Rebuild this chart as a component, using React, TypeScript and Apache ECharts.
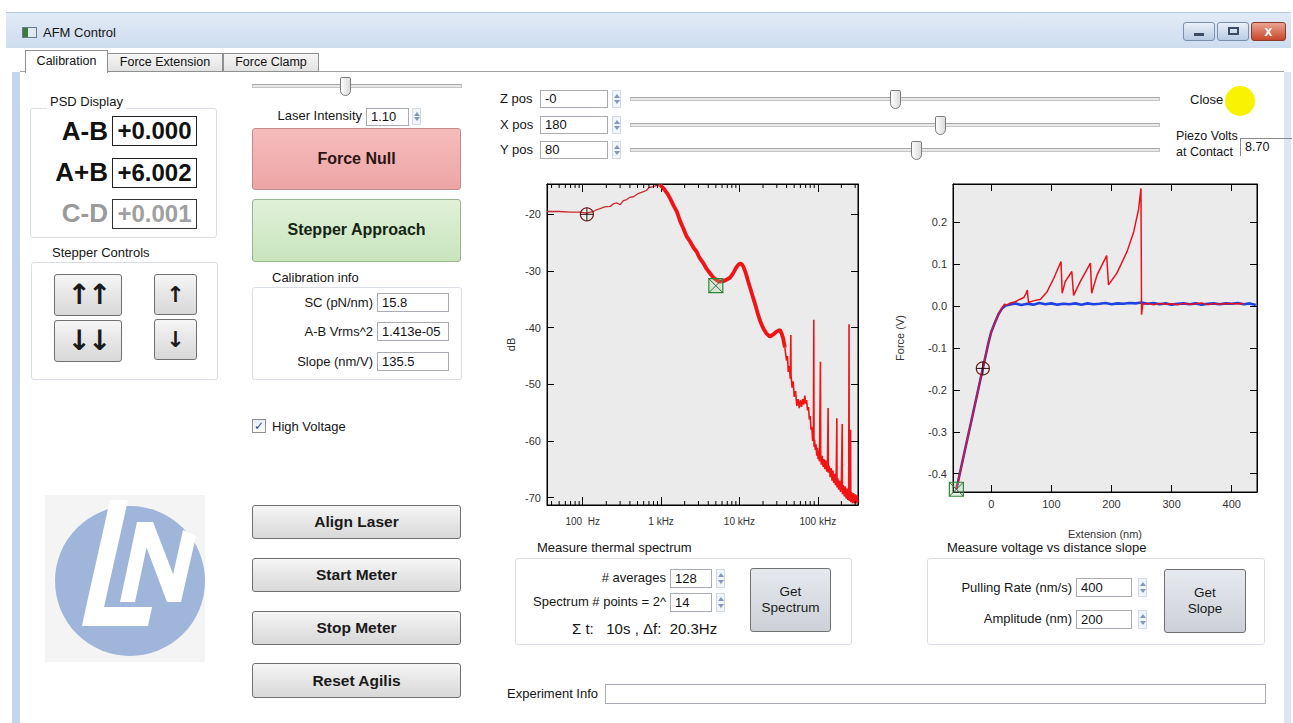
import React, { useEffect, useRef } from "react";
import * as echarts from "echarts";

// ---------------- DATA ----------------
// Thermal spectrum: [frequency (Hz), power (dB)]
const specLow = [
  [35, -19.5], [50, -19.5], [70, -19.6], [93, -19.6], [113, -19.8], [137, -19.5], [150, -19.2],
  [167, -19.0], [190, -18.7], [224, -18.6], [250, -18.1], [272, -18.0], [300, -18.3], [330, -17.6],
  [365, -17.4], [400, -17.0], [444, -16.9], [500, -16.4], [596, -16.0], [650, -15.8], [700, -15.3],
  [798, -15.1], [880, -14.9], [971, -14.8],
];
const specMid = [
  [971, -14.8], [1071, -15.4], [1200, -16.3], [1303, -17.2], [1450, -18.5], [1584, -19.5], [1750, -21.2],
  [1926, -22.5], [2100, -23.8], [2341, -24.8], [2600, -25.9], [2846, -26.6], [3100, -27.7], [3460, -28.6],
  [3800, -29.6], [4207, -30.4], [4600, -31.1], [5115, -31.6], [5600, -31.9], [6219, -31.8], [6900, -31.5],
  [7561, -31.2], [8337, -30.4], [9000, -29.5], [9664, -28.9], [10150, -28.7], [10700, -28.8], [11190, -29.2],
  [12000, -30.3], [12970, -31.9], [14000, -33.4], [15010, -34.8], [16200, -36.3], [17380, -37.8],
  [18700, -39.1], [20130, -40.1], [22000, -41.0], [24480, -41.6], [27000, -41.2], [29740, -40.7],
  [32800, -40.4], [34500, -41.0], [36160, -41.9], [38000, -43.5],
];
const specTail = [
  [38000, -43.5], [39880, -45.8], [41000, -45.0], [42000, -47.8], [43500, -46.8], [44500, -49.0],
  [45290, -41.3], [45600, -48.5], [47000, -50.6], [48500, -49.5], [50000, -52.2], [52000, -51.2],
  [54000, -53.8], [56000, -52.6], [58000, -54.2], [60000, -52.8], [62000, -54.0], [64000, -52.6],
  [66000, -53.6], [68290, -52.0], [70000, -53.4], [72000, -52.8], [74000, -54.6], [76000, -54.0],
  [78000, -56.2], [80000, -55.6], [82000, -58.0], [84000, -57.6], [86000, -60.0], [88000, -59.0],
  [88920, -38.6], [89500, -61.0], [91000, -59.8], [93000, -61.6], [95000, -60.6], [97000, -62.6],
  [99000, -61.2], [101000, -63.2], [103000, -61.8], [105000, -63.6], [108100, -46.0], [109000, -62.4],
  [111000, -64.2], [114000, -62.6], [117000, -64.6], [120000, -63.2], [123000, -65.0], [126000, -63.4],
  [130000, -65.4], [133000, -64.0], [135400, -54.2], [136500, -65.6], [140000, -64.4], [144000, -66.4],
  [148000, -64.8], [152000, -67.0], [156000, -65.2], [160000, -67.4], [164000, -65.8], [168000, -67.8],
  [172000, -66.2], [175000, -56.0], [176000, -68.2], [180000, -66.6], [185000, -68.6], [190000, -67.0],
  [195000, -69.0], [200000, -67.4], [205000, -57.0], [206000, -69.4], [212000, -67.8], [218000, -69.8],
  [224000, -68.0], [230000, -70.2], [236000, -68.4], [242000, -70.4], [248000, -68.6], [250600, -39.4],
  [252000, -70.6], [256000, -68.8], [262000, -58.0], [264000, -70.8], [270000, -69.0], [278000, -71.0],
  [286000, -69.2], [294000, -71.0], [302000, -69.4], [310000, -71.0], [318000, -69.6], [326000, -70.8],
];
const specFreqTickValues = [100, 1000, 10000, 100000];
const specFreqTickLabels = ["100  Hz", "1 kHz", "10 kHz", "100 kHz"];
const specMinorTicks = [
  40, 50, 60, 70, 80, 90, 200, 300, 400, 500, 600, 700, 800, 900,
  2000, 3000, 4000, 5000, 6000, 7000, 8000, 9000,
  20000, 30000, 40000, 50000, 60000, 70000, 80000, 90000, 200000, 300000,
];
const specRange = { fMin: 35, fMax: 326000, dbMin: -71.3, dbMax: -14.65 };
// cursors: [x, y, kind] kind 0 = circle cursor, 1 = square cursor
const specCursors = [[113, -20, 0], [5000, -32.6, 1]];

// Force vs extension: [extension (nm), force (V)]
const forceApproach = [
  [-58, -0.437], [-45, -0.352], [-30, -0.254], [-14, -0.149], [-5, -0.09], [0, -0.062], [6, -0.04],
  [12, -0.02], [18, -0.006], [24, 0.001], [30, 0.003], [40, 0.006], [50, 0.002], [60, 0.005], [70, 0.003],
  [80, 0.007], [90, 0.004], [100, 0.006], [110, 0.003], [120, 0.005], [130, 0.004], [140, 0.006],
  [150, 0.003], [160, 0.006], [170, 0.004], [180, 0.005], [190, 0.007], [200, 0.004], [210, 0.006],
  [220, 0.005], [230, 0.007], [240, 0.006], [250, 0.008], [260, 0.005], [270, 0.007], [280, 0.004],
  [290, 0.006], [300, 0.003], [310, 0.005], [320, 0.006], [330, 0.004], [340, 0.006], [350, 0.003],
  [360, 0.005], [370, 0.006], [380, 0.004], [390, 0.006], [400, 0.005], [410, 0.007], [420, 0.004],
  [430, 0.006], [440, 0.002],
];
const forceRetract = [
  [-58, -0.437], [-45, -0.352], [-30, -0.254], [-14, -0.149], [-5, -0.09], [0, -0.062], [6, -0.04],
  [12, -0.02], [18, -0.004], [22, 0.004], [26, 0.002], [32, 0.007], [40, 0.01], [48, 0.016], [54, 0.02],
  [58, 0.03], [60, 0.038], [62, 0.008], [70, 0.012], [82, 0.016], [93, 0.034], [104, 0.066], [116, 0.106],
  [118, 0.03], [123, 0.058], [134, 0.082], [137, 0.025], [148, 0.058], [165, 0.102], [167, 0.03],
  [176, 0.074], [192, 0.12], [195, 0.05], [209, 0.078], [226, 0.13], [237, 0.177], [245, 0.23],
  [249, 0.28], [250, -0.021], [252, 0.004], [260, 0.006], [270, 0.003], [280, 0.006], [290, 0.004],
  [300, 0.005], [310, 0.003], [320, 0.006], [330, 0.004], [340, 0.005], [350, 0.007], [360, 0.003],
  [370, 0.006], [380, 0.004], [390, 0.006], [400, 0.005], [410, 0.006], [420, 0.005],
];
const forceRange = { xMin: -63.6, xMax: 442, yMin: -0.4436, yMax: 0.2906 };
const forceCursors = [[-14, -0.149, 0], [-58, -0.437, 1]];

// ---------------- GUI helpers ----------------
const FONT = "'Liberation Sans', Arial, sans-serif";
const FONTW = "'Liberation Sans', Arial, sans-serif";

const Abs = ({ x, y, w, h, style, children }: any) => (
  <div style={{ position: "absolute", left: x, top: y, width: w, height: h, boxSizing: "border-box", ...style }}>{children}</div>
);

const Label = ({ x, cy, text, size = 13, align = "left", color = "#151515", bold = false, font = FONT, bg }: any) => {
  const w = 400;
  const left = align === "left" ? x : align === "right" ? x - w : x - w / 2;
  return (
    <div style={{ position: "absolute", left, top: cy - 11, width: w, height: 22, lineHeight: "22px", textAlign: align, fontSize: size, fontFamily: font, fontWeight: bold ? 700 : 400, color, whiteSpace: "pre" }}>
      <span style={{ background: bg, padding: bg ? "0 3px" : 0 }}>{text}</span>
    </div>
  );
};

const Input = ({ x, y, w, h, text, size = 13 }: any) => (
  <Abs x={x} y={y} w={w} h={h} style={{ background: "#fff", border: "1px solid #a9acb2", fontFamily: FONT, fontSize: size, lineHeight: h - 2 + "px", paddingLeft: 4, color: "#111", whiteSpace: "nowrap", overflow: "hidden" }}>{text}</Abs>
);

const Spinner = ({ x, y, h }: any) => (
  <Abs x={x} y={y} w={9} h={h} style={{ background: "#f1f4f8", border: "1px solid #d4dae2", display: "flex", flexDirection: "column", alignItems: "center", justifyContent: "space-around", padding: "2px 0" }}>
    <div style={{ width: 0, height: 0, borderLeft: "3px solid transparent", borderRight: "3px solid transparent", borderBottom: "4px solid #7f99bb" }} />
    <div style={{ width: 0, height: 0, borderLeft: "3px solid transparent", borderRight: "3px solid transparent", borderTop: "4px solid #7f99bb" }} />
  </Abs>
);

const Slider = ({ x1, x2, y, thumb }: any) => (
  <>
    <Abs x={x1} y={y - 2} w={x2 - x1} h={4} style={{ background: "#e9e9e9", border: "1px solid #c4c4c4", borderTopColor: "#a8a8a8" }} />
    <Abs x={thumb - 5} y={y - 9} w={11} h={19} style={{ background: "linear-gradient(90deg,#fdfdfd,#dcdcdc)", border: "1px solid #7b7b7b", borderRadius: "2px 2px 6px 6px" }} />
  </>
);

const Button = ({ x, y, w, h, text, size = 15.5, bold = true, bg, border = "#707070", color = "#1a1a1a", font = FONTW, ls = 0 }: any) => (
  <Abs x={x} y={y} w={w} h={h} style={{ background: bg || "linear-gradient(#f6f6f6,#e6e6e6 50%,#d8d8d8)", border: "1px solid " + border, borderRadius: 3, display: "flex", alignItems: "center", justifyContent: "center", textAlign: "center", fontFamily: font, fontSize: size, fontWeight: bold ? 700 : 400, color, lineHeight: 1.15, whiteSpace: "pre", letterSpacing: ls }}>{text}</Abs>
);

const Group = ({ x, y, w, h, title, tx, ty }: any) => (
  <>
    <Abs x={x} y={y} w={w} h={h} style={{ border: "1px solid #d9dfe4", borderRadius: 3 }} />
    <Label x={tx} cy={ty} text={title} bg="#fff" />
  </>
);

// ---------------- chart ----------------
function buildOption() {
  const black = { color: "#000", width: 1 };
  const labelStyle = { color: "#333", fontFamily: FONTW, fontSize: 11 };
  const isMult = (v: number, step: number) => Math.abs(v / step - Math.round(v / step)) < 1e-6;

  const freqLabel = (v: number) => {
    const i = specFreqTickValues.findIndex((t) => Math.abs(Math.log10(v) - Math.log10(t)) < 1e-6);
    return i >= 0 ? specFreqTickLabels[i] : "";
  };

  const minorTickItem = (params: any, api: any) => {
    const f = api.value(0);
    const top = api.coord([f, specRange.dbMax]);
    const bot = api.coord([f, specRange.dbMin]);
    return {
      type: "group",
      children: [
        { type: "line", shape: { x1: top[0], y1: top[1], x2: top[0], y2: top[1] + 4 }, style: { stroke: "#000", lineWidth: 1 } },
        { type: "line", shape: { x1: bot[0], y1: bot[1], x2: bot[0], y2: bot[1] - 4 }, style: { stroke: "#000", lineWidth: 1 } },
      ],
    };
  };

  const cursorItem = (params: any, api: any) => {
    const p = api.coord([api.value(0), api.value(1)]);
    const kind = api.value(2);
    if (kind === 0) {
      const r = 6.5;
      return {
        type: "group",
        children: [
          { type: "circle", shape: { cx: p[0], cy: p[1], r }, style: { fill: "none", stroke: "#6e1818", lineWidth: 1.2 } },
          { type: "line", shape: { x1: p[0] - r, y1: p[1], x2: p[0] + r, y2: p[1] }, style: { stroke: "#2a1010", lineWidth: 1 } },
          { type: "line", shape: { x1: p[0], y1: p[1] - r, x2: p[0], y2: p[1] + r }, style: { stroke: "#2a1010", lineWidth: 1 } },
        ],
      };
    }
    const s = 7;
    return {
      type: "group",
      children: [
        { type: "rect", shape: { x: p[0] - s, y: p[1] - s, width: 2 * s, height: 2 * s }, style: { fill: "rgba(150,210,150,0.25)", stroke: "#2f8a35", lineWidth: 1.2 } },
        { type: "line", shape: { x1: p[0] - s, y1: p[1] - s, x2: p[0] + s, y2: p[1] + s }, style: { stroke: "#3d6b3d", lineWidth: 1 } },
        { type: "line", shape: { x1: p[0] + s, y1: p[1] - s, x2: p[0] - s, y2: p[1] + s }, style: { stroke: "#3d6b3d", lineWidth: 1 } },
      ],
    };
  };

  const logX = (position: string, showLabel: boolean) => ({
    type: "log", logBase: 10, gridIndex: 0, position, min: specRange.fMin, max: specRange.fMax,
    axisLine: { show: true, onZero: false, lineStyle: black },
    axisTick: { show: true, inside: true, length: 8, lineStyle: black },
    axisLabel: { show: showLabel, formatter: freqLabel, margin: 11, ...labelStyle, fontSize: 10, showMinLabel: false, showMaxLabel: false },
    splitLine: { show: false },
  });
  const dbY = (position: string, showLabel: boolean) => ({
    type: "value", gridIndex: 0, position, min: specRange.dbMin, max: specRange.dbMax, splitNumber: 6,
    axisLine: { show: true, onZero: false, lineStyle: black },
    axisTick: { show: true, inside: true, length: 7, lineStyle: black },
    axisLabel: { show: showLabel, formatter: (v: number) => (isMult(v, 10) ? String(Math.round(v)) : ""), margin: 6, ...labelStyle },
    splitLine: { show: false },
    name: showLabel ? "dB" : "", nameLocation: "middle", nameGap: 31, nameTextStyle: { color: "#333", fontFamily: FONTW, fontSize: 11 },
  });
  const extX = (position: string, showLabel: boolean) => ({
    type: "value", gridIndex: 1, position, min: forceRange.xMin, max: forceRange.xMax, splitNumber: 5,
    axisLine: { show: true, onZero: false, lineStyle: black },
    axisTick: { show: true, inside: true, length: 7, lineStyle: black },
    axisLabel: { show: showLabel, formatter: (v: number) => (isMult(v, 100) ? String(Math.round(v)) : ""), margin: 6, ...labelStyle },
    splitLine: { show: false },
    name: showLabel ? "Extension (nm)" : "", nameLocation: "middle", nameGap: 36, nameTextStyle: { color: "#333", fontFamily: FONTW, fontSize: 11 },
  });
  const fY = (position: string, showLabel: boolean) => ({
    type: "value", gridIndex: 1, position, min: forceRange.yMin, max: forceRange.yMax, splitNumber: 7,
    axisLine: { show: true, onZero: false, lineStyle: black },
    axisTick: { show: true, inside: true, length: 7, lineStyle: black },
    axisLabel: { show: showLabel, formatter: (v: number) => (isMult(v, 0.1) ? (Math.round(v * 10) / 10).toFixed(1) : ""), margin: 6, ...labelStyle },
    splitLine: { show: false },
    name: showLabel ? "Force (V)" : "", nameLocation: "middle", nameGap: 48, nameTextStyle: { color: "#333", fontFamily: FONTW, fontSize: 11 },
  });

  return {
    animation: false,
    backgroundColor: "transparent",
    grid: [
      { left: 57, top: 14, width: 311, height: 321, show: true, backgroundColor: "#ebebeb", borderColor: "#000", borderWidth: 1 },
      { left: 463, top: 14, width: 304, height: 308, show: true, backgroundColor: "#ebebeb", borderColor: "#000", borderWidth: 1 },
    ],
    xAxis: [logX("bottom", true), logX("top", false), extX("bottom", true), extX("top", false)],
    yAxis: [dbY("left", true), dbY("right", false), fY("left", true), fY("right", false)],
    series: [
      { type: "line", xAxisIndex: 0, yAxisIndex: 0, data: specLow, showSymbol: false, lineStyle: { color: "#c92a30", width: 1.3 }, z: 3 },
      { type: "line", xAxisIndex: 0, yAxisIndex: 0, data: specMid, showSymbol: false, lineStyle: { color: "#f01414", width: 3.8 }, z: 3 },
      { type: "line", xAxisIndex: 0, yAxisIndex: 0, data: specTail, showSymbol: false, lineStyle: { color: "#f01414", width: 1.6 }, z: 3 },
      { type: "custom", xAxisIndex: 0, yAxisIndex: 0, data: specMinorTicks.map((f) => [f, specRange.dbMax]), renderItem: minorTickItem, clip: false, silent: true, z: 4 },
      { type: "custom", xAxisIndex: 0, yAxisIndex: 0, data: specCursors, renderItem: cursorItem, clip: false, silent: true, z: 6 },
      { type: "line", xAxisIndex: 2, yAxisIndex: 2, data: forceApproach, showSymbol: false, lineStyle: { color: "#2042e0", width: 2.6 }, z: 3 },
      { type: "line", xAxisIndex: 2, yAxisIndex: 2, data: forceRetract, showSymbol: false, lineStyle: { color: "#e8121e", width: 1.5 }, z: 4 },
      { type: "custom", xAxisIndex: 2, yAxisIndex: 2, data: forceCursors, renderItem: cursorItem, clip: false, silent: true, z: 6 },
    ],
  };
}

function Charts() {
  const ref = useRef<HTMLDivElement>(null);
  useEffect(() => {
    if (!ref.current) return;
    const chart = echarts.init(ref.current, null, { renderer: "svg" });
    chart.setOption(buildOption() as any);
    return () => chart.dispose();
  }, []);
  return <div ref={ref} style={{ position: "absolute", left: 490, top: 170, width: 795, height: 380 }} />;
}

function Logo() {
  return (
    <svg style={{ position: "absolute", left: 40, top: 490 }} width={170} height={175} viewBox="0 0 170 175">
      <rect x={5} y={5} width={160} height={167} fill="#f4f4f4" />
      <circle cx={90} cy={91} r={75} fill="#9fb5da" />
      <polygon points="70,10 88,10 64,117 46,117" fill="#fff" />
      <polygon points="46,117 112,117 108,136 42,136" fill="#fff" />
      <polygon points="80,112 95,112 112,32 97,32" fill="#fff" />
      <polygon points="97,32 113,32 140,102 127,112" fill="#fff" />
      <polygon points="127,112 141,112 156,46 143,40" fill="#fff" />
    </svg>
  );
}

export default function App() {
  return (
    <div style={{ position: "fixed", left: 0, top: 0, width: 1293, height: 723, background: "#fff", overflow: "hidden", fontFamily: FONT }}>
      {/* window title bar */}
      <Abs x={6} y={12} w={1285} h={36} style={{ background: "linear-gradient(#e2ebf6,#cddcef)", borderTop: "1px solid #b7c8de" }} />
      <Abs x={22} y={27} w={15} h={11} style={{ background: "linear-gradient(90deg,#3c7a3c 40%,#dfe8f0 40%)", border: "1px solid #6a7b8c" }} />
      <Label x={43} cy={33} text="AFM Control" size={13} font={FONTW} />
      <Abs x={1183} y={22} w={32} h={19} style={{ background: "linear-gradient(#e9f0f8,#b9cbe2)", border: "1px solid #7890ad", borderRadius: 3 }}>
        <div style={{ position: "absolute", left: 10, top: 10, width: 10, height: 3, background: "#3c4c64" }} />
      </Abs>
      <Abs x={1217} y={22} w={32} h={19} style={{ background: "linear-gradient(#e9f0f8,#b9cbe2)", border: "1px solid #7890ad", borderRadius: 3 }}>
        <div style={{ position: "absolute", left: 10, top: 4, width: 11, height: 8, border: "2px solid #3c4c64", boxSizing: "border-box" }} />
      </Abs>
      <Abs x={1251} y={22} w={35} h={19} style={{ background: "linear-gradient(#eba38f,#c8462a)", border: "1px solid #8a3a2a", borderRadius: 3, color: "#fff", fontFamily: FONTW, fontWeight: 700, fontSize: 14, textAlign: "center", lineHeight: "17px" }}>x</Abs>
      {/* window side borders */}
      <Abs x={12} y={72} w={8} h={651} style={{ background: "#c3d6ee" }} />
      <Abs x={1284} y={72} w={7} h={651} style={{ background: "#dbe6f3" }} />
      {/* tabs */}
      <Abs x={20} y={71} w={1264} h={1} style={{ background: "#a3a3a3" }} />
      <Abs x={107} y={53} w={116} h={19} style={{ background: "linear-gradient(#f6f6f6,#e2e2e2)", border: "1px solid #8e8f8f", fontFamily: FONT, fontSize: 12.5, textAlign: "center", lineHeight: "17px", color: "#111" }}>Force Extension</Abs>
      <Abs x={223} y={53} w={96} h={19} style={{ background: "linear-gradient(#f6f6f6,#e2e2e2)", border: "1px solid #8e8f8f", fontFamily: FONT, fontSize: 12.5, textAlign: "center", lineHeight: "17px", color: "#111" }}>Force Clamp</Abs>
      <Abs x={25} y={50} w={83} h={23} style={{ background: "#fff", border: "1px solid #8e8f8f", borderBottom: "none", fontFamily: FONT, fontSize: 12.5, textAlign: "center", lineHeight: "20px", color: "#111" }}>Calibration</Abs>

      {/* PSD display */}
      <Group x={30} y={108} w={187} h={130} title="PSD Display" tx={47} ty={102} />
      <Label x={108} cy={131} text="A-B" size={26} bold align="right" font={FONTW} color="#111" />
      <Abs x={112} y={116} w={85} h={30} style={{ border: "1.5px solid #222", background: "#fff", fontFamily: FONTW, fontWeight: 700, fontSize: 24, lineHeight: "27px", textAlign: "center", color: "#111" }}>+0.000</Abs>
      <Label x={108} cy={172} text="A+B" size={26} bold align="right" font={FONTW} color="#111" />
      <Abs x={112} y={158} w={85} h={30} style={{ border: "1.5px solid #222", background: "#fff", fontFamily: FONTW, fontWeight: 700, fontSize: 24, lineHeight: "27px", textAlign: "center", color: "#111" }}>+6.002</Abs>
      <Label x={108} cy={213} text="C-D" size={26} bold align="right" font={FONTW} color="#9a9a9a" />
      <Abs x={112} y={199} w={85} h={30} style={{ border: "1.5px solid #333", background: "#fff", fontFamily: FONTW, fontWeight: 700, fontSize: 24, lineHeight: "27px", textAlign: "center", color: "#a0a0a0" }}>+0.001</Abs>

      {/* stepper controls */}
      <Group x={31} y={262} w={187} h={118} title="Stepper Controls" tx={49} ty={253} />
      <Button x={54} y={274} w={68} h={42} text="↑↑" size={28} font="'DejaVu Sans', sans-serif" ls={-3} />
      <Button x={54} y={320} w={68} h={42} text="↓↓" size={28} font="'DejaVu Sans', sans-serif" ls={-3} />
      <Button x={154} y={274} w={43} h={41} text="↑" size={22} font="'DejaVu Sans', sans-serif" />
      <Button x={154} y={319} w={43} h={41} text="↓" size={22} font="'DejaVu Sans', sans-serif" />

      {/* laser */}
      <Slider x1={252} x2={462} y={86} thumb={345} />
      <Label x={362} cy={116} text="Laser Intensity" align="right" />
      <Input x={366} y={108} w={43} h={18} text="1.10" />
      <Spinner x={412} y={108} h={17} />
      <Button x={252} y={128} w={209} h={62} text="Force Null" size={16} bg="linear-gradient(#f6bcbc,#eda5a5)" border="#c58c8c" color="#2a1414" />
      <Button x={252} y={199} w={209} h={63} text="Stepper Approach" size={16} bg="linear-gradient(#e0f1d8,#c9e4bd)" border="#98b58f" color="#142414" />

      {/* calibration info */}
      <Group x={252} y={287} w={210} h={93} title="Calibration info" tx={269} ty={278} />
      <Label x={373} cy={303} text="SC (pN/nm)" align="right" />
      <Input x={377} y={293} w={72} h={19} text="15.8" />
      <Label x={373} cy={332} text="A-B Vrms^2" align="right" />
      <Input x={377} y={322} w={72} h={19} text="1.413e-05" />
      <Label x={373} cy={362} text="Slope (nm/V)" align="right" />
      <Input x={377} y={352} w={72} h={19} text="135.5" />

      {/* high voltage */}
      <Abs x={252} y={419} w={14} h={14} style={{ border: "1px solid #8f8f8f", background: "linear-gradient(#e8edf5,#fdfdfd)", color: "#2b4c8c", fontSize: 12, lineHeight: "12px", textAlign: "center", fontFamily: "'DejaVu Sans', sans-serif", fontWeight: 700 }}>✓</Abs>
      <Label x={272} cy={427} text="High Voltage" />

      <Logo />

      <Button x={252} y={505} w={209} h={34} text="Align Laser" />
      <Button x={252} y={558} w={209} h={34} text="Start Meter" />
      <Button x={252} y={611} w={209} h={34} text="Stop Meter" />
      <Button x={252} y={663} w={209} h={35} text="Reset Agilis" />

      {/* positions */}
      <Label x={500} cy={99} text="Z pos" />
      <Input x={540} y={90} w={68} h={18} text="-0" />
      <Spinner x={612} y={90} h={18} />
      <Slider x1={630} x2={1160} y={99} thumb={895} />
      <Label x={500} cy={125} text="X pos" />
      <Input x={540} y={116} w={68} h={18} text="180" />
      <Spinner x={612} y={116} h={18} />
      <Slider x1={630} x2={1160} y={125} thumb={940} />
      <Label x={500} cy={150} text="Y pos" />
      <Input x={540} y={141} w={68} h={18} text="80" />
      <Spinner x={612} y={141} h={18} />
      <Slider x1={630} x2={1160} y={150} thumb={916} />

      <Label x={1190} cy={100} text="Close" />
      <Abs x={1225} y={86} w={30} h={30} style={{ borderRadius: "50%", background: "#f9f200" }} />
      <Label x={1176} cy={136} text="Piezo Volts" size={12.5} />
      <Label x={1176} cy={152} text="at Contact" size={12.5} />
      <Abs x={1240} y={138} w={52} h={18} style={{ borderTop: "1px solid #8a8a8a", borderLeft: "1px solid #8a8a8a", fontFamily: FONT, fontSize: 12.5, lineHeight: "17px", paddingLeft: 4, color: "#111" }}>8.70</Abs>

      <Charts />

      {/* thermal spectrum */}
      <Group x={515} y={558} w={337} h={87} title="Measure thermal spectrum" tx={534} ty={548} />
      <Label x={666} cy={578} text="# averages" align="right" />
      <Input x={670} y={569} w={42} h={19} text="128" />
      <Spinner x={716} y={569} h={19} />
      <Label x={666} cy={602} text="Spectrum # points = 2^" align="right" />
      <Input x={670} y={593} w={42} h={19} text="14" />
      <Spinner x={716} y={593} h={19} />
      <Label x={572} cy={629} text="Σ t:   10s , Δf:  20.3Hz" size={15} />
      <Button x={750} y={568} w={81} h={64} text={"Get\nSpectrum"} size={13.5} bold={false} font={FONT} bg="linear-gradient(#e6e9ee,#cdd1d7)" />

      {/* voltage vs distance */}
      <Group x={927} y={558} w={338} h={87} title="Measure voltage vs distance slope" tx={944} ty={548} />
      <Label x={1072} cy={588} text="Pulling Rate (nm/s)" align="right" />
      <Input x={1076} y={578} w={56} h={19} text="400" />
      <Spinner x={1138} y={578} h={19} />
      <Label x={1072} cy={619} text="Amplitude (nm)" align="right" />
      <Input x={1076} y={610} w={56} h={19} text="200" />
      <Spinner x={1138} y={610} h={19} />
      <Button x={1164} y={569} w={82} h={64} text={"Get\nSlope"} size={13.5} bold={false} font={FONT} bg="linear-gradient(#e6e9ee,#cdd1d7)" />

      {/* experiment info */}
      <Label x={507} cy={694} text="Experiment Info" />
      <Input x={605} y={684} w={661} h={20} text="" />
    </div>
  );
}
